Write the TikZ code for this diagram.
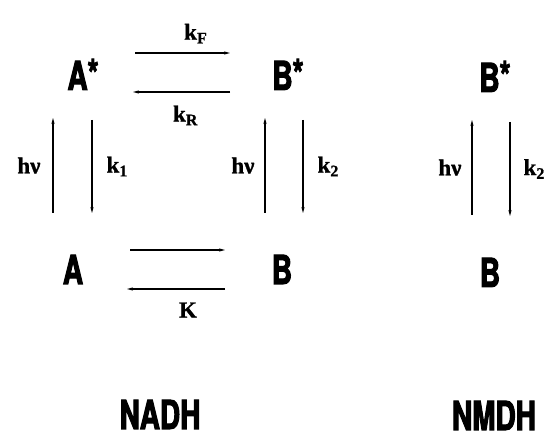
\documentclass[tikz,border=0pt]{standalone}
\usepackage{fontspec}
\usetikzlibrary{arrows.meta, calc}
\newfontfamily\condfont[FakeStretch=0.7, BoldFeatures={FakeBold=2.5}]{TeX Gyre Heros}
\newfontfamily\ratefont[BoldFeatures={FakeBold=1}]{Liberation Serif}
\tikzset{
  species/.style={font=\condfont\bfseries\fontsize{40}{44}\selectfont, inner sep=0pt, anchor=base},
  rate/.style={font=\ratefont\bfseries\fontsize{23}{26}\selectfont, inner sep=0pt},
  trans/.style={->, line width=1.1pt},
}
\begin{document}
\begin{tikzpicture}[>={Stealth[length=6pt,width=3.2pt]}, x=1pt, y=-1pt]
  \useasboundingbox (0,0) rectangle (552,438);

  % excited states
  \node[species] (As)  at (83,90)  {A\raisebox{2pt}{*}};
  \node[species] (Bs)  at (288,90) {B\raisebox{2pt}{*}};
  \node[species] (Bs2) at (495,92) {B\raisebox{2pt}{*}};

  % ground states
  \node[species] (A)  at (73,284)  {A};
  \node[species] (B)  at (282,284) {B};
  \node[species] (B2) at (490,287) {B};

  % compounds
  \node[species] (nadh) at (160,429) {NADH};
  \node[species] (nmdh) at (494,430) {NMDH};

  % A* <-> B*
  \draw[trans, shorten <=52pt, shorten >=58pt] ([yshift=37pt]As.base) -- ([yshift=37pt]Bs.base)
    node[rate, pos=0.55, above=9pt] {k\textsubscript{F}};
  \draw[trans, shorten <=58pt, shorten >=50pt] ([yshift=-2pt]Bs.base) -- ([yshift=-2pt]As.base)
    node[rate, pos=0.5, below=13pt] {k\textsubscript{R}};

  % A <-> B
  \draw[trans, shorten <=57pt, shorten >=57pt] ([yshift=34pt]A.base) -- ([yshift=34pt]B.base);
  \draw[trans, shorten <=57pt, shorten >=54pt] ([yshift=-5pt]B.base) -- ([yshift=-5pt]A.base)
    node[rate, pos=0.45, below=13pt] {K};

  % excitation and decay, NADH
  \draw[trans] ([xshift=-20pt,yshift=71pt]A.base) -- ([xshift=-30pt,yshift=-28pt]As.base)
    node[rate, midway, left=12pt] {hν};
  \draw[trans] ([xshift=9pt,yshift=-30pt]As.base) -- ([xshift=19pt,yshift=71pt]A.base)
    node[rate, midway, right=14pt] {k\textsubscript{1}};

  \draw[trans] ([xshift=-17pt,yshift=71pt]B.base) -- ([xshift=-23pt,yshift=-28pt]Bs.base)
    node[rate, midway, left=10pt] {hν};
  \draw[trans] ([xshift=15pt,yshift=-30pt]Bs.base) -- ([xshift=21pt,yshift=71pt]B.base)
    node[rate, midway, right=14pt] {k\textsubscript{2}};

  % excitation and decay, NMDH
  \draw[trans] ([xshift=-18pt,yshift=72pt]B2.base) -- ([xshift=-23pt,yshift=-28pt]Bs2.base)
    node[rate, midway, left=10pt] {hν};
  \draw[trans] ([xshift=15pt,yshift=-30pt]Bs2.base) -- ([xshift=20pt,yshift=71pt]B2.base)
    node[rate, midway, right=13pt] {k\textsubscript{2}};

\end{tikzpicture}
\end{document}
